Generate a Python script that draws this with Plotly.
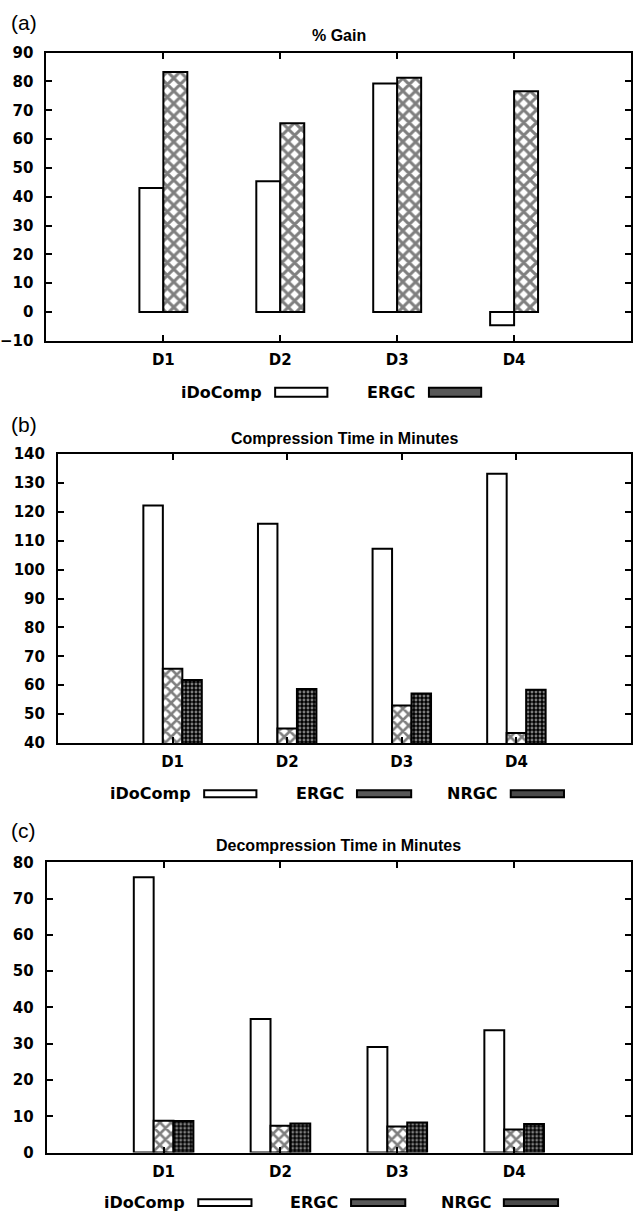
import plotly.graph_objects as go

# ---------------- data ----------------
categories = ["D1", "D2", "D3", "D4"]

gain_idocomp = [43, 45.4, 79.3, -4.6]
gain_ergc = [83.3, 65.5, 81.3, 76.6]

comp_idocomp = [122.2, 115.9, 107.2, 133.2]
comp_ergc = [65.7, 45.0, 53.0, 43.5]
comp_nrgc = [61.8, 58.7, 57.1, 58.4]

decomp_idocomp = [75.9, 36.8, 29.1, 33.7]
decomp_ergc = [8.8, 7.4, 7.2, 6.4]
decomp_nrgc = [8.7, 8.0, 8.3, 7.9]

series_names = ["iDoComp", "ERGC", "NRGC"]
panel_titles = ["% Gain", "Compression Time in Minutes", "Decompression Time in Minutes"]
panel_labels = ["(a)", "(b)", "(c)"]

W, H = 633, 1223
TICK_FONT = dict(family="DejaVu Sans", size=15, color="black", weight="bold")
LEG_FONT = dict(family="DejaVu Sans", size=16, color="black", weight="bold")
TITLE_FONT = dict(family="Liberation Sans", size=16, color="black", weight="bold")


def px_x(v):
    return v / W


def px_y(v):
    return 1 - v / H


def style_for(name, hatch_size):
    if name == "iDoComp":
        return dict(color="white", line=dict(color="black", width=2))
    if name == "ERGC":
        return dict(color="white", line=dict(color="black", width=2),
                    pattern=dict(shape="x", fgcolor="black", bgcolor="white",
                                 size=hatch_size, solidity=0.55))
    return dict(color="black", line=dict(color="black", width=2),
                pattern=dict(shape=".", fgcolor="white", bgcolor="black",
                             size=4, solidity=0.42))


fig = go.Figure()

panels = [
    dict(series=[gain_idocomp, gain_ergc], names=series_names[:2], yr=[-10, 90],
         width=0.205, hatch=9,
         xdom=[39, 632], ytop=44.3, ybot=336.7),
    dict(series=[comp_idocomp, comp_ergc, comp_nrgc], names=series_names, yr=[40, 140],
         width=0.17, hatch=8,
         xdom=[50.7, 632], ytop=451.7, ybot=745),
    dict(series=[decomp_idocomp, decomp_ergc, decomp_nrgc], names=series_names, yr=[0, 80],
         width=0.17, hatch=8,
         xdom=[39.3, 632], ytop=866, ybot=1160.7),
]

layout_axes = {}
for i, p in enumerate(panels):
    k = "" if i == 0 else str(i + 1)
    n = len(p["series"])
    w = p["width"]
    for j, (vals, name) in enumerate(zip(p["series"], p["names"])):
        fig.add_trace(go.Bar(
            x=categories, y=vals, name=name, showlegend=False,
            width=w, offset=-n * w / 2 + j * w,
            marker=style_for(name, p["hatch"]),
            xaxis="x" + k, yaxis="y" + k,
        ))
    layout_axes["xaxis" + k] = dict(
        domain=[px_x(p["xdom"][0]), px_x(p["xdom"][1])],
        anchor="y" + k, type="category", categoryorder="array",
        categoryarray=categories, range=[-1, 4],
        showline=True, linewidth=2, linecolor="black", mirror="ticks",
        ticks="inside", ticklen=6, tickwidth=1.5, tickcolor="black",
        showgrid=False, zeroline=False, tickfont=TICK_FONT,
        ticklabelstandoff=4,
    )
    layout_axes["yaxis" + k] = dict(
        domain=[px_y(p["ybot"]), px_y(p["ytop"])],
        anchor="x" + k, range=p["yr"], dtick=10, tick0=0,
        showline=True, linewidth=2, linecolor="black", mirror="ticks",
        ticks="inside", ticklen=6, tickwidth=1.5, tickcolor="black",
        showgrid=False, zeroline=False, tickfont=TICK_FONT,
        ticklabelstandoff=8,
    )

annotations = []
shapes = []

# panel labels and titles
label_y = [14, 422, 834]
title_y = [27, 436, 849]
for i, p in enumerate(panels):
    annotations.append(dict(text=panel_labels[i], x=px_x(1), y=px_y(label_y[i]),
                            xref="paper", yref="paper", xanchor="left", yanchor="middle",
                            showarrow=False,
                            font=dict(family="Liberation Sans", size=21, color="black")))
    cx = (p["xdom"][0] + p["xdom"][1]) / 2
    annotations.append(dict(text=panel_titles[i], x=px_x(cx), y=px_y(title_y[i]),
                            xref="paper", yref="paper", xanchor="center", yanchor="middle",
                            showarrow=False, font=TITLE_FONT))

# custom legends (text followed by key box, as in the original)
key_fill = {"iDoComp": "white", "ERGC": "#585858", "NRGC": "#4a4a4a"}
legend_rows = [
    dict(y=389, h=9, items=[("iDoComp", 260, 271, 324), ("ERGC", 415, 427, 480)]),
    dict(y=796.5, h=7, items=[("iDoComp", 188, 199, 252), ("ERGC", 343, 354, 409),
                              ("NRGC", 499, 510, 564)]),
    dict(y=1211.5, h=7, items=[("iDoComp", 182, 193, 247), ("ERGC", 337, 348, 403),
                               ("NRGC", 493, 503, 558)]),
]
for row in legend_rows:
    for name, tx, k0, k1 in row["items"]:
        annotations.append(dict(text=name, x=px_x(tx), y=px_y(row["y"]),
                                xref="paper", yref="paper", xanchor="right", yanchor="middle",
                                showarrow=False, font=LEG_FONT))
        shapes.append(dict(type="rect", xref="paper", yref="paper",
                           x0=px_x(k0), x1=px_x(k1),
                           y0=px_y(row["y"] + row["h"] / 2), y1=px_y(row["y"] - row["h"] / 2),
                           line=dict(color="black", width=2), fillcolor=key_fill[name]))

fig.update_layout(
    width=W, height=H, margin=dict(l=0, r=0, t=0, b=0),
    paper_bgcolor="white", plot_bgcolor="white",
    barmode="overlay", showlegend=False,
    annotations=annotations, shapes=shapes,
    **layout_axes,
)

fig.write_html(
    "out.html",
    config={"displayModeBar": False},
    post_script="document.body.style.margin='0';document.body.style.overflow='hidden';",
)
